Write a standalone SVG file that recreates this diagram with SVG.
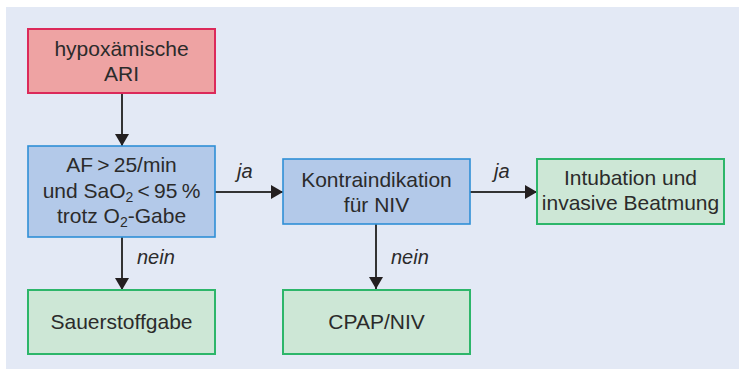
<svg xmlns="http://www.w3.org/2000/svg" width="739" height="369" viewBox="0 0 739 369">
<style>
.t{font-family:"Liberation Sans",Arial,sans-serif;font-size:21px;fill:#2b2b2b;text-anchor:middle}
.l{font-family:"Liberation Sans",Arial,sans-serif;font-size:20px;font-style:italic;fill:#2b2b2b}
.red{fill:#eea3a3;stroke:#dc2a5a;stroke-width:2}
.blue{fill:#b3c9e9;stroke:#2f8fd6;stroke-width:1.6}
.green{fill:#cde7d6;stroke:#2db66a;stroke-width:2}
.c{stroke:#333;stroke-width:2;fill:none}
.sub{font-size:14px}
</style>
<defs>
<marker id="ah" markerWidth="14" markerHeight="14" viewBox="0 0 14 14" refX="12" refY="7" orient="auto" markerUnits="userSpaceOnUse">
<path d="M0,0 L12,7 L0,14 Z" fill="#231f20"/>
</marker>
</defs>
<rect x="6" y="7" width="733" height="362" fill="#e3e9f5"/>
<g id="connectors">
<line class="c" x1="122" y1="93" x2="122" y2="146" marker-end="url(#ah)"/>
<line class="c" x1="215" y1="192" x2="283" y2="192" marker-end="url(#ah)"/>
<line class="c" x1="470" y1="192" x2="537" y2="192" marker-end="url(#ah)"/>
<line class="c" x1="122" y1="237" x2="122" y2="290" marker-end="url(#ah)"/>
<line class="c" x1="376" y1="224" x2="376" y2="289" marker-end="url(#ah)"/>
<text class="l" x="237" y="178">ja</text>
<text class="l" x="494" y="178">ja</text>
<text class="l" x="137" y="264">nein</text>
<text class="l" x="391" y="264">nein</text>
</g>
<g id="n1">
<rect class="red" x="28" y="29" width="187" height="64"/>
<text class="t" x="121.5" y="56">hypoxämische</text>
<text class="t" x="121.5" y="81">ARI</text>
</g>
<g id="n2">
<rect class="blue" x="28" y="146" width="187" height="91"/>
<text class="t" x="121.5" y="172">AF&#8201;&gt;&#8201;25/min</text>
<text class="t" x="121.5" y="198">und SaO<tspan class="sub" dy="4">2</tspan><tspan dy="-4">&#8201;&lt;&#8201;95&#8201;%</tspan></text>
<text class="t" x="121.5" y="223">trotz O<tspan class="sub" dy="4">2</tspan><tspan dy="-4">-Gabe</tspan></text>
</g>
<g id="n3">
<rect class="green" x="28" y="290" width="187" height="64"/>
<text class="t" x="121.5" y="329">Sauerstoffgabe</text>
</g>
<g id="n4">
<rect class="blue" x="283" y="159" width="187" height="65"/>
<text class="t" x="376.5" y="187">Kontraindikation</text>
<text class="t" x="376.5" y="212">für NIV</text>
</g>
<g id="n5">
<rect class="green" x="283" y="290" width="187" height="64"/>
<text class="t" x="376.5" y="329">CPAP/NIV</text>
</g>
<g id="n6">
<rect class="green" x="537" y="159" width="187" height="65"/>
<text class="t" x="630.5" y="185">Intubation und</text>
<text class="t" x="630.5" y="210">invasive Beatmung</text>
</g>
</svg>
